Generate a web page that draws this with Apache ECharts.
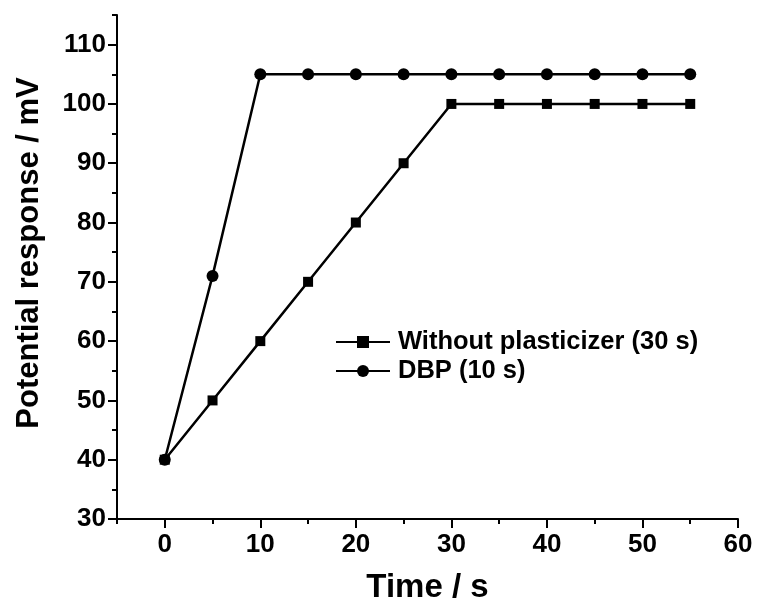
<!DOCTYPE html>
<html>
<head>
<meta charset="utf-8">
<script src="https://cdn.jsdelivr.net/npm/echarts@6/dist/echarts.min.js"></script>
<style>html,body{margin:0;padding:0;background:#fff}#c{width:758px;height:603px}</style>
</head>
<body>
<div id="c"></div>
<script>
const times = [0, 5, 10, 15, 20, 25, 30, 35, 40, 45, 50, 55];
const withoutPlasticizer = [40, 50, 60, 70, 80, 90, 100, 100, 100, 100, 100, 100];
const dbp = [40, 71, 105, 105, 105, 105, 105, 105, 105, 105, 105, 105];
const seriesNames = ['Without plasticizer (30 s)', 'DBP (10 s)'];
const xTickLabels = [0, 10, 20, 30, 40, 50, 60];
const yTickLabels = [30, 40, 50, 60, 70, 80, 90, 100, 110];
const xTitle = 'Time / s';
const yTitle = 'Potential response / mV';

const font = 'Liberation Sans, Arial, sans-serif';
const chart = echarts.init(document.getElementById('c'), null, {renderer: 'canvas'});
const pairs = (xs, ys) => xs.map((x, i) => [x, ys[i]]);
const blk = '#000';
const xBase = {type: 'value', min: -5, max: 60, position: 'bottom', splitLine: {show: false}};
const yBase = {type: 'value', min: 30, max: 115, position: 'left', splitLine: {show: false}};
chart.setOption({
  animation: false,
  backgroundColor: '#fff',
  grid: {left: 117, right: 20, top: 15, bottom: 84, outerBoundsMode: 'none', containLabel: false},
  legend: {
    left: 335, top: 329, orient: 'vertical', padding: 0,
    itemWidth: 54, itemHeight: 15, itemGap: 3,
    textStyle: {fontFamily: font, fontWeight: 'bold', fontSize: 25.5, color: blk, padding: [0, 0, 0, 3]},
    data: seriesNames
  },
  xAxis: [
    Object.assign({}, xBase, {
      name: xTitle, nameLocation: 'middle', nameGap: 52,
      nameTextStyle: {fontFamily: font, fontWeight: 'bold', fontSize: 33, color: blk},
      axisLine: {onZero: false, lineStyle: {color: blk, width: 2}},
      axisTick: {show: true, inside: false, length: 9, lineStyle: {width: 2, color: blk}, customValues: xTickLabels},
      axisLabel: {fontFamily: font, fontWeight: 'bold', fontSize: 26, color: blk, margin: 13, customValues: xTickLabels}
    }),
    Object.assign({}, xBase, {
      interval: 5,
      axisLine: {show: false, onZero: false},
      axisTick: {show: true, inside: false, length: 5, lineStyle: {width: 2, color: blk}},
      axisLabel: {show: false}
    })
  ],
  yAxis: [
    Object.assign({}, yBase, {
      name: yTitle, nameLocation: 'middle', nameGap: 72,
      nameTextStyle: {fontFamily: font, fontWeight: 'bold', fontSize: 31, color: blk, padding: [0, 0, 0, 28]},
      axisLine: {onZero: false, lineStyle: {color: blk, width: 2}},
      axisTick: {show: true, inside: false, length: 9, lineStyle: {width: 2, color: blk}, customValues: yTickLabels},
      axisLabel: {fontFamily: font, fontWeight: 'bold', fontSize: 26, color: blk, margin: 11, customValues: yTickLabels}
    }),
    Object.assign({}, yBase, {
      interval: 5,
      axisLine: {show: false, onZero: false},
      axisTick: {show: true, inside: false, length: 5, lineStyle: {width: 2, color: blk}},
      axisLabel: {show: false}
    })
  ],
  series: [
    {name: seriesNames[0], type: 'line', data: pairs(times, withoutPlasticizer),
     symbol: 'rect', symbolSize: 10, itemStyle: {color: blk}, lineStyle: {color: blk, width: 2.5}},
    {name: seriesNames[1], type: 'line', data: pairs(times, dbp),
     symbol: 'circle', symbolSize: 12, itemStyle: {color: blk}, lineStyle: {color: blk, width: 2.5}}
  ]
});
</script>
</body>
</html>
